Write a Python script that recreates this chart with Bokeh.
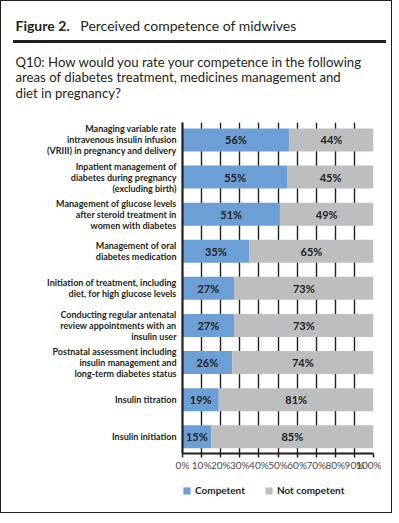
from bokeh.plotting import figure
from bokeh.models import (ColumnDataSource, Range1d, FixedTicker, LabelSet,
                          Legend, LegendItem, Div)
from bokeh.layouts import column
from bokeh.core.properties import value
from bokeh.embed import file_html
from bokeh.resources import INLINE

# ---- data ----
categories = [
    "Managing variable rate\nintravenous insulin infusion\n(VRIII) in pregnancy and delivery",
    "Inpatient management of\ndiabetes during pregnancy\n(excluding birth)",
    "Management of glucose levels\nafter steroid treatment in\nwomen with diabetes",
    "Management of oral\ndiabetes medication",
    "Initiation of treatment, including\ndiet, for high glucose levels",
    "Conducting regular antenatal\nreview appointments with an\ninsulin user",
    "Postnatal assessment including\ninsulin management and\nlong-term diabetes status",
    "Insulin titration",
    "Insulin initiation",
]
competent = [56, 55, 51, 35, 27, 27, 26, 19, 15]
not_competent = [44, 45, 49, 65, 73, 73, 74, 81, 85]
x_ticks = [0, 10, 20, 30, 40, 50, 60, 70, 80, 90, 100]
series_names = ["Competent", "Not competent"]
title_bold = "Figure 2."
title_rest = "Perceived competence of midwives"
question_lines = [
    "Q10: How would you rate your competence in the following",
    "areas of diabetes treatment, medicines management and",
    "diet in pregnancy?",
]

BLUE = "#6b9fd6"
GREY = "#bcbec0"
INK = "#231f20"
FONT = "Lato"

FIG_W = 380
ML, MT, MR, MB = 150, 16, 8, 21
FH = 331

ypos = list(range(len(categories)))
src = ColumnDataSource(dict(
    y=ypos,
    competent=competent,
    not_competent=not_competent,
    c_mid=[c / 2 for c in competent],
    n_mid=[c + n / 2 for c, n in zip(competent, not_competent)],
    c_lab=[f"{c}%" for c in competent],
    n_lab=[f"{n}%" for n in not_competent],
))

header = Div(width=FIG_W, height=95, text=f"""
<div style="font-family:{FONT}, sans-serif; color:{INK}; margin:0; padding:10px 0 0 9.5px; width:{FIG_W - 9.5}px;">
  <div style="height:19px; line-height:19px; font-size:14px; white-space:nowrap; margin:0;"><b>{title_bold}</b>&nbsp;&nbsp;&nbsp;{title_rest}</div>
  <div style="margin:5.25px 0 0 -3px; width:373px; height:2.5px; background:{INK};"></div>
  <div style="margin:12px 0 0 0; font-size:13.2px; line-height:15.5px; white-space:nowrap;">{'<br>'.join(question_lines)}</div>
</div>""")

p = figure(width=FIG_W, height=MT + FH + MB, output_backend="svg", toolbar_location=None,
           x_range=Range1d(0, 100), y_range=Range1d(8.45, -0.47),
           min_border_left=ML, min_border_top=MT, min_border_right=MR,
           min_border_bottom=MB)
p.outline_line_color = None

r = p.hbar_stack(["competent", "not_competent"], y="y", height=0.62,
                 color=[BLUE, GREY], line_color=None, source=src)

# axes
p.xaxis.ticker = FixedTicker(ticks=x_ticks)
p.xaxis.major_label_overrides = {t: f"{t}%" for t in x_ticks}
p.xaxis.axis_line_width = 2.2
p.xaxis.axis_line_color = INK
p.xaxis.major_tick_in = 0
p.xaxis.major_tick_out = 4
p.xaxis.major_tick_line_width = 1.5
p.xaxis.major_tick_line_color = INK
p.xaxis.minor_tick_line_color = None
p.xaxis.major_label_standoff = 1
p.xaxis.major_label_text_font = FONT
p.xaxis.major_label_text_font_size = "10px"
p.xaxis.major_label_text_color = "#4a4a4a"

p.yaxis.ticker = FixedTicker(ticks=ypos)
p.yaxis.major_label_overrides = {i: c for i, c in zip(ypos, categories)}
p.yaxis.axis_line_width = 2.2
p.yaxis.axis_line_color = INK
p.yaxis.minor_tick_line_color = None
p.yaxis.major_tick_line_color = None
p.yaxis.major_tick_in = 0
p.yaxis.major_tick_out = 0
p.yaxis.major_label_standoff = 6
p.yaxis.major_label_text_font = FONT
p.yaxis.major_label_text_font_style = "bold"
p.yaxis.major_label_text_font_size = "9px"
p.yaxis.major_label_text_color = INK
p.yaxis.major_label_text_align = "right"
p.yaxis.major_label_text_line_height = 1.0

p.xgrid.ticker = FixedTicker(ticks=x_ticks)
p.xgrid.grid_line_color = INK
p.xgrid.grid_line_width = 1.4
p.ygrid.grid_line_color = None

# value labels
for xcol, tcol in (("c_mid", "c_lab"), ("n_mid", "n_lab")):
    p.add_layout(LabelSet(x=xcol, y="y", text=tcol, source=src,
                          text_align="center", text_baseline="middle",
                          text_font=value(FONT), text_font_style="bold",
                          text_font_size="11px", text_color=INK))

# legend strip (its swatches come from hbar renderers that sit outside the view)
pl = figure(width=FIG_W, height=38, output_backend="svg", toolbar_location=None,
            x_range=Range1d(0, 1), y_range=Range1d(0, 1),
            x_axis_location=None, y_axis_location=None,
            min_border_left=181, min_border_top=10, min_border_right=0,
            min_border_bottom=0)
pl.outline_line_color = None
pl.grid.visible = False
swatch_src = ColumnDataSource(dict(y=[-5], left=[0], right=[1]))
lr = [pl.hbar(y="y", left="left", right="right", height=1, fill_color=c,
              line_color=None, source=swatch_src)
      for c in (BLUE, GREY)]
legend = Legend(items=[LegendItem(label=n, renderers=[g]) for n, g in zip(series_names, lr)],
                orientation="horizontal", location="top_left",
                glyph_width=9, glyph_height=9, label_height=9, label_standoff=4,
                spacing=19, padding=0, margin=0, border_line_color=None,
                background_fill_alpha=0, label_text_font=FONT,
                label_text_font_style="bold", label_text_font_size="10px",
                label_text_color=INK, label_text_baseline="middle")
pl.add_layout(legend)

layout = column(header, p, pl, spacing=0,
                styles={"border": f"1.5px solid {INK}"})

open("out.html", "w").write(file_html(layout, INLINE))
